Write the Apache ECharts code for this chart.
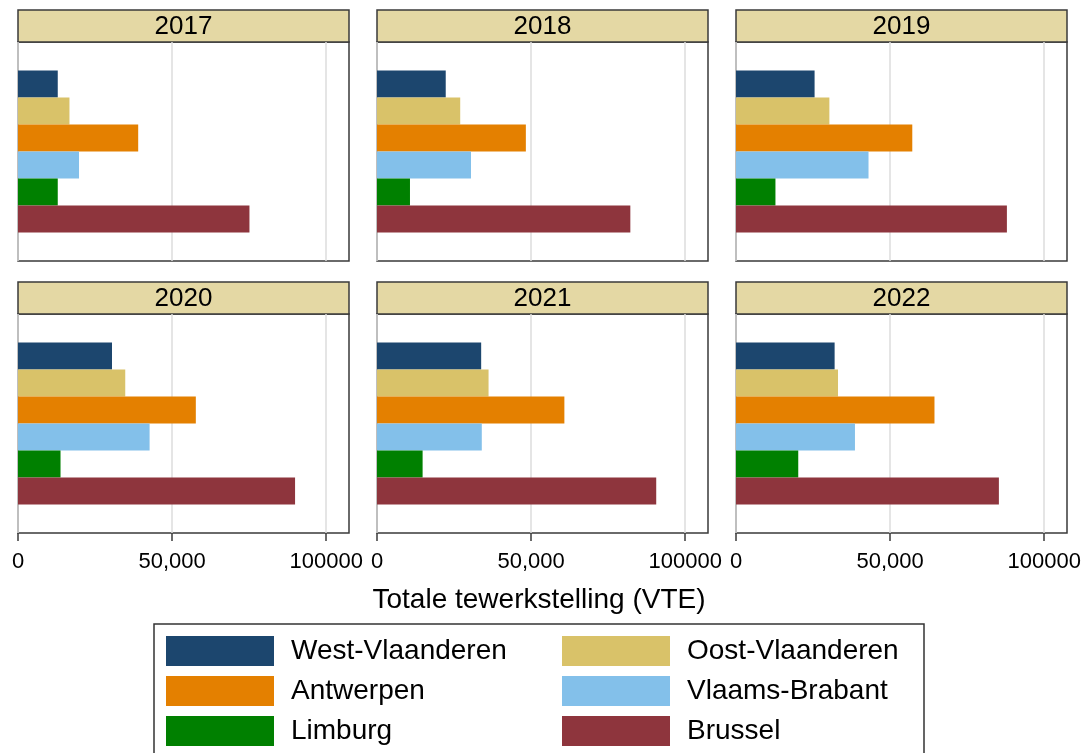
<!DOCTYPE html>
<html>
<head>
<meta charset="utf-8">
<title>Totale tewerkstelling (VTE)</title>
<script src="https://cdn.jsdelivr.net/npm/echarts@6.0.0/dist/echarts.min.js"></script>
<style>
  html, body { margin: 0; padding: 0; background: #fff; }
  #chart { width: 1090px; height: 753px; }
</style>
</head>
<body>
<div id="chart"></div>
<script>
// data
const years = ['2017', '2018', '2019', '2020', '2021', '2022']
const regions = ['West-Vlaanderen', 'Oost-Vlaanderen', 'Antwerpen', 'Vlaams-Brabant', 'Limburg', 'Brussel']
const westVlaanderen = [12900, 22300, 25500, 30500, 33800, 32000]
const oostVlaanderen = [16700, 27000, 30300, 34800, 36200, 33100]
const antwerpen = [39000, 48300, 57200, 57700, 60800, 64400]
const vlaamsBrabant = [19800, 30500, 43000, 42700, 34000, 38600]
const limburg = [12900, 10700, 12800, 13800, 14800, 20200]
const brussel = [75100, 82200, 87900, 89900, 90600, 85300]
const tickValues = [0, 50000, 100000]
const tickLabels = ['0', '50,000', '100000']
const axisTitle = 'Totale tewerkstelling (VTE)'

const regionValues = [westVlaanderen, oostVlaanderen, antwerpen, vlaamsBrabant, limburg, brussel]
const colors = ['#1c466e', '#d9c269', '#e48000', '#83c0ea', '#008000', '#8e353d']

const font = 'Liberation Sans, Arial, sans-serif'
const colLeft = [18, 377, 736]
const plotW = 331
const headerTop = [10, 282]
const headerH = 32
const plotH = 219

const grids = [], xAxes = [], yAxes = [], series = [], graphics = []

years.forEach((year, i) => {
  const col = i % 3
  const row = Math.floor(i / 3)
  const bottomRow = row === 1
  grids.push({
    left: colLeft[col],
    top: headerTop[row] + headerH,
    width: plotW,
    height: plotH,
    show: true,
    backgroundColor: '#fff',
    borderColor: '#3a3a3a',
    borderWidth: 1.5,
    outerBoundsMode: 'none',
    containLabel: false
  })
  xAxes.push({
    gridIndex: i,
    type: 'value',
    min: 0,
    max: 107400,
    interval: 50000,
    axisLine: { show: false },
    axisTick: {
      show: bottomRow,
      customValues: tickValues,
      length: 8,
      lineStyle: { color: '#3a3a3a', width: 1.5 }
    },
    axisLabel: {
      show: bottomRow,
      customValues: tickValues,
      margin: 18,
      fontSize: 22,
      fontFamily: font,
      color: '#000',
      formatter: v => {
        const k = tickValues.indexOf(v)
        return k >= 0 ? tickLabels[k] : ''
      }
    },
    splitLine: { show: true, lineStyle: { color: '#dcdcdc', width: 1.5 } }
  })
  yAxes.push({
    gridIndex: i,
    type: 'category',
    data: [''],
    axisLine: { show: false },
    axisTick: { show: false },
    axisLabel: { show: false },
    splitLine: { show: false }
  })
  regions.forEach((name, r) => {
    series.push({
      name: name,
      type: 'bar',
      xAxisIndex: i,
      yAxisIndex: i,
      barGap: '0%',
      barCategoryGap: '26%',
      itemStyle: { color: colors[r] },
      silent: true,
      data: [regionValues[r][i]]
    })
  })
  // year strip
  graphics.push({
    type: 'rect',
    shape: { x: colLeft[col], y: headerTop[row], width: plotW, height: headerH },
    style: { fill: '#e4d8a4', stroke: '#3a3a3a', lineWidth: 1.5 }
  })
  graphics.push({
    type: 'text',
    x: colLeft[col] + plotW / 2,
    y: headerTop[row] + headerH / 2 + 1,
    style: {
      text: year,
      fill: '#000',
      font: '26px ' + font,
      align: 'center',
      verticalAlign: 'middle'
    }
  })
})

graphics.push({
  type: 'text',
  x: 539,
  y: 600,
  style: {
    text: axisTitle,
    fill: '#000',
    font: '28px ' + font,
    align: 'center',
    verticalAlign: 'middle'
  }
})
// legend frame
graphics.push({
  type: 'rect',
  shape: { x: 154, y: 624, width: 770, height: 140 },
  style: { fill: 'none', stroke: '#333', lineWidth: 1.5 }
})

const legendStyle = {
  orient: 'vertical',
  top: 635,
  height: 200,
  padding: 0,
  itemWidth: 108,
  itemHeight: 30,
  itemGap: 8,
  icon: 'rect',
  selectedMode: false,
  textStyle: {
    fontSize: 28,
    fontFamily: font,
    color: '#000',
    lineHeight: 30,
    padding: [2, 0, 0, 12]
  }
}

const option = {
  animation: false,
  backgroundColor: '#fff',
  legend: [
    Object.assign({ left: 166, data: [regions[0], regions[2], regions[4]] }, legendStyle),
    Object.assign({ left: 562, data: [regions[1], regions[3], regions[5]] }, legendStyle)
  ],
  grid: grids,
  xAxis: xAxes,
  yAxis: yAxes,
  series: series,
  graphic: graphics
}

const chart = echarts.init(document.getElementById('chart'))
chart.setOption(option)
</script>
</body>
</html>
